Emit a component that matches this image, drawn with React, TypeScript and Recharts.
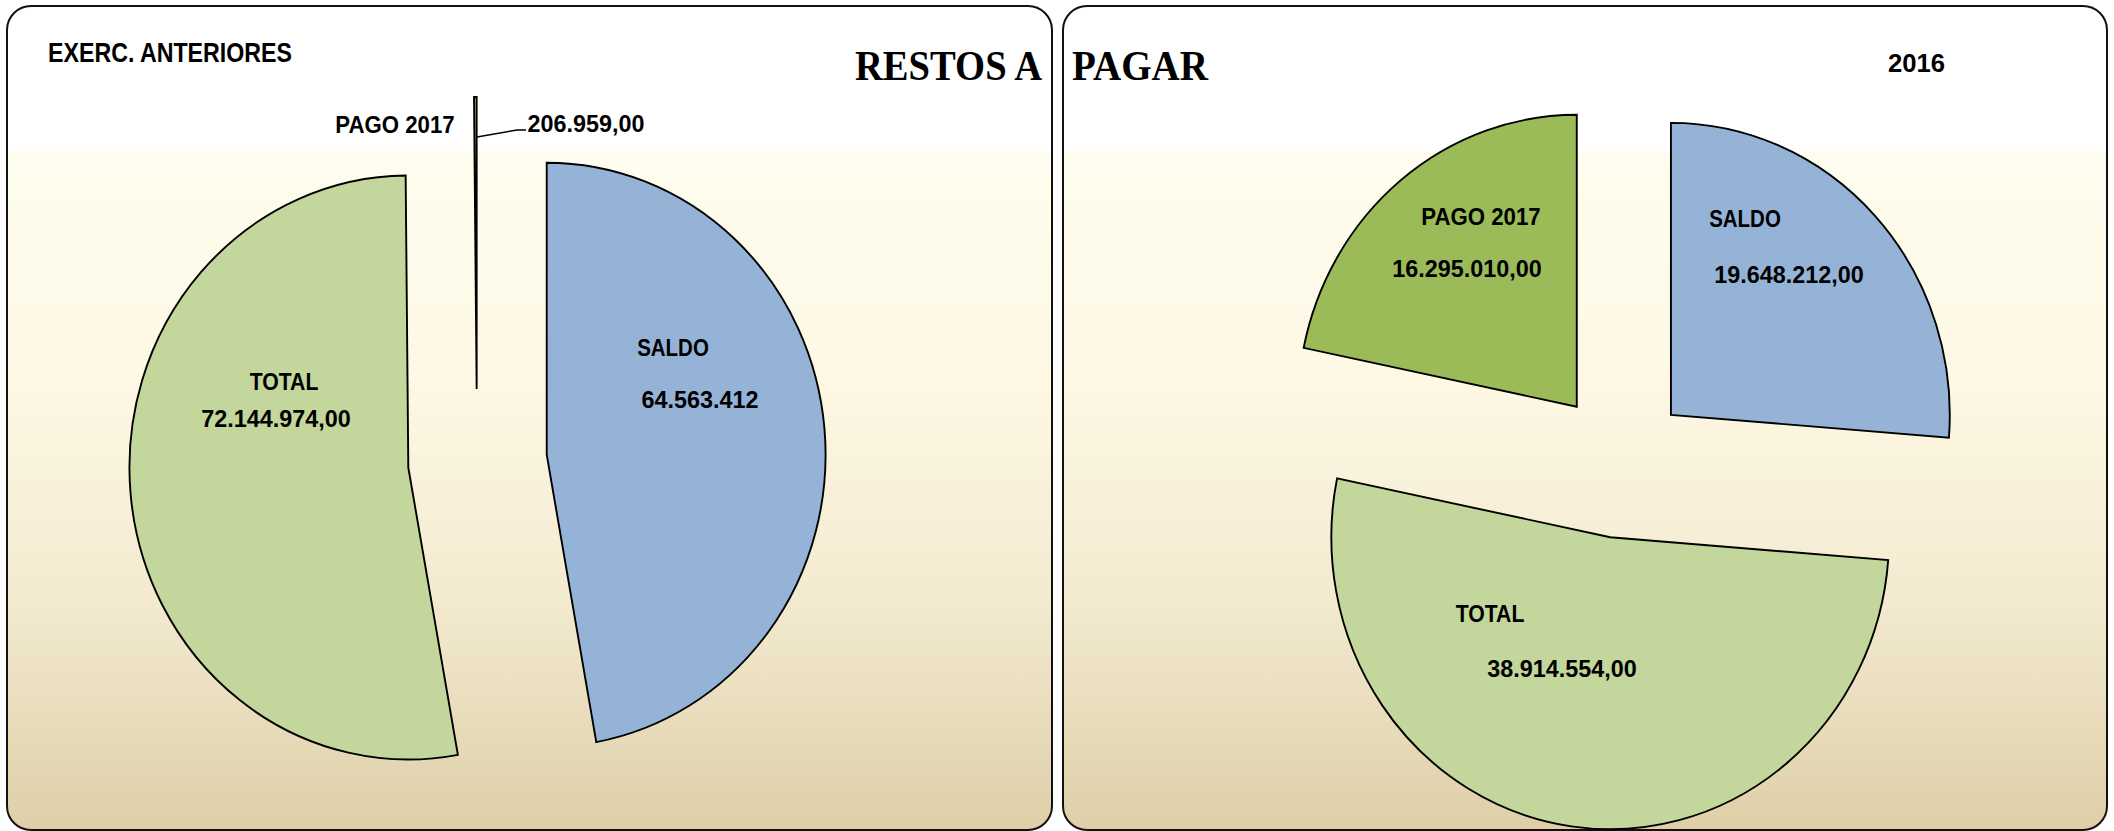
import React from "react";
import { PieChart, Pie, Cell } from "recharts";

// ---------- data ----------
const categories = ["SALDO", "TOTAL", "PAGO 2017"];
const anterioresValues = [64563412, 72144974, 206959];
const anterioresValueLabels = ["64.563.412", "72.144.974,00", "206.959,00"];
const values2016 = [19648212, 38914554, 16295010];
const values2016Labels = ["19.648.212,00", "38.914.554,00", "16.295.010,00"];

// ---------- styles ----------
const sliceColors = ["#95B3D7", "#C3D69B", "#9BBB59"];
const W = 2114;
const H = 831;
const RADIUS = 292;
const ASPECT = 0.955; // horizontal / vertical radius
const leftExplode = [70, 69, 72];
const rightExplode = [68, 77, 70];
// label offsets relative to pie centre: [nameDx, nameDy, valueDx, valueDy]
const leftLabelPos = [
  [196, -105, 223, -53],
  [-193, -71, -201, -34],
  [-82, -328, 109, -329],
];
const rightLabelPos = [
  [124, -234, 168, -178],
  [-131, 161, -59, 216],
  [-140, -236, -154, -184],
];
const leftLeader: (number[][] | null)[] = [null, null, [[0, -324], [40, -331], [49, -331]]];

const LABEL_FONT = "'Liberation Sans', Arial, sans-serif";
const LABEL_SIZE = 23.6;
const CALIBRI_W: Record<string, number> = {
  "0": 0.507, "1": 0.507, "2": 0.507, "3": 0.507, "4": 0.507, "5": 0.507, "6": 0.507, "7": 0.507, "8": 0.507, "9": 0.507,
  ".": 0.267, ",": 0.258, " ": 0.2, A: 0.606, C: 0.529, D: 0.63, E: 0.488, G: 0.637, I: 0.267, L: 0.423,
  N: 0.659, O: 0.676, P: 0.532, R: 0.563, S: 0.473, T: 0.495, X: 0.551,
};
const textWidth = (s: string) => [...s].reduce((a, c) => a + (CALIBRI_W[c] ?? 0.5), 0) * 25.5;

const leftData = categories.map((name, i) => ({ name, value: anterioresValues[i], valueText: anterioresValueLabels[i] }));
const rightData = categories.map((name, i) => ({ name, value: values2016[i], valueText: values2016Labels[i] }));

const RAD = Math.PI / 180;

const makeShape = (explode: number[]) => (props: any) => {
  const { cx, cy, outerRadius, startAngle, endAngle, fill } = props;
  const name = props.name ?? props.payload?.name;
  const i = categories.indexOf(name);
  const d = explode[i] ?? 0;
  const mid = (startAngle + endAngle) / 2;
  const ox = cx + d * Math.cos(mid * RAD);
  const oy = cy - d * Math.sin(mid * RAD);
  const ry = outerRadius;
  const rx = outerRadius * ASPECT;
  const x1 = ox + rx * Math.cos(startAngle * RAD);
  const y1 = oy - ry * Math.sin(startAngle * RAD);
  const x2 = ox + rx * Math.cos(endAngle * RAD);
  const y2 = oy - ry * Math.sin(endAngle * RAD);
  const large = Math.abs(startAngle - endAngle) > 180 ? 1 : 0;
  const sweep = startAngle > endAngle ? 1 : 0;
  return (
    <path
      d={`M${ox},${oy} L${x1},${y1} A${rx},${ry} 0 ${large} ${sweep} ${x2},${y2} Z`}
      fill={fill}
      stroke="#000"
      strokeWidth={1.9}
      strokeLinejoin="miter"
    />
  );
};

const makeLabel = (pos: number[][], leaders: (number[][] | null)[] | null) => (props: any) => {
  const name = props.name ?? props.payload?.name;
  const i = categories.indexOf(name);
  const p = pos[i];
  const { cx, cy } = props;
  const valueText = props.payload?.valueText ?? props.valueText;
  const leader = leaders ? leaders[i] : null;
  const common = {
    fontFamily: LABEL_FONT,
    fontWeight: 700,
    fontSize: LABEL_SIZE,
    fill: "#000",
    textAnchor: "middle" as const,
    lengthAdjust: "spacingAndGlyphs" as const,
  };
  return (
    <g key={`lbl-${name}`}>
      {leader && (
        <polyline
          points={leader.map((q) => `${cx + q[0]},${cy + q[1]}`).join(" ")}
          fill="none"
          stroke="#000"
          strokeWidth={1.5}
        />
      )}
      <text x={cx + p[0]} y={cy + p[1]} textLength={textWidth(name)} {...common}>
        {name}
      </text>
      <text x={cx + p[2]} y={cy + p[3]} textLength={textWidth(valueText)} {...common}>
        {valueText}
      </text>
    </g>
  );
};

const Panel = ({ x, w, id }: { x: number; w: number; id: string }) => (
  <rect x={x} y={6} width={w} height={824} rx={24} ry={24} fill={`url(#${id})`} stroke="#111" strokeWidth={2} />
);

const Background = () => (
  <svg width={W} height={H} style={{ position: "absolute", left: 0, top: 0 }}>
    <defs>
      {["gL", "gR"].map((id) => (
        <linearGradient key={id} id={id} x1="0" y1="0" x2="0" y2="1">
          <stop offset="0" stopColor="#FFFFFF" />
          <stop offset="0.176" stopColor="#FFFFFF" />
          <stop offset="0.176" stopColor="#FEFDEF" />
          <stop offset="0.45" stopColor="#FEF8E5" />
          <stop offset="0.72" stopColor="#F3EAD0" />
          <stop offset="1" stopColor="#DECFA8" />
        </linearGradient>
      ))}
    </defs>
    <Panel x={7} w={1045} id="gL" />
    <Panel x={1063} w={1044} id="gR" />
  </svg>
);

const Titles = () => (
  <svg width={W} height={H} style={{ position: "absolute", left: 0, top: 0, pointerEvents: "none" }}>
    <text x={48} y={62} fontFamily={LABEL_FONT} fontWeight={700} fontSize={28} textLength={244} lengthAdjust="spacingAndGlyphs">
      EXERC. ANTERIORES
    </text>
    <text x={1888} y={72} fontFamily={LABEL_FONT} fontWeight={700} fontSize={26.5} textLength={57} lengthAdjust="spacingAndGlyphs">
      2016
    </text>
    <text x={855} y={80} fontFamily="'Liberation Serif', 'DejaVu Serif', serif" fontWeight={700} fontSize={42} textLength={187} lengthAdjust="spacingAndGlyphs">
      RESTOS A
    </text>
    <text x={1072} y={80} fontFamily="'Liberation Serif', 'DejaVu Serif', serif" fontWeight={700} fontSize={42} textLength={136} lengthAdjust="spacingAndGlyphs">
      PAGAR
    </text>
  </svg>
);

export default function App() {
  return (
    <div style={{ position: "absolute", left: 0, top: 0, width: W, height: H, overflow: "hidden", background: "#fff" }}>
      <Background />
      <div style={{ position: "absolute", left: 0, top: 0 }}>
        <PieChart width={W} height={H} margin={{ top: 0, right: 0, bottom: 0, left: 0 }}>
          <Pie
            data={leftData}
            dataKey="value"
            nameKey="name"
            cx={477}
            cy={461}
            outerRadius={RADIUS}
            startAngle={90}
            endAngle={-270}
            isAnimationActive={false}
            shape={makeShape(leftExplode)}
            label={makeLabel(leftLabelPos, leftLeader)}
            labelLine={false}
          >
            {leftData.map((d, i) => (
              <Cell key={d.name} fill={sliceColors[i]} stroke="#000" />
            ))}
          </Pie>
          <Pie
            data={rightData}
            dataKey="value"
            nameKey="name"
            cx={1621}
            cy={461}
            outerRadius={RADIUS}
            startAngle={90}
            endAngle={-270}
            isAnimationActive={false}
            shape={makeShape(rightExplode)}
            label={makeLabel(rightLabelPos, null)}
            labelLine={false}
          >
            {rightData.map((d, i) => (
              <Cell key={d.name} fill={sliceColors[i]} stroke="#000" />
            ))}
          </Pie>
        </PieChart>
      </div>
      <Titles />
    </div>
  );
}
